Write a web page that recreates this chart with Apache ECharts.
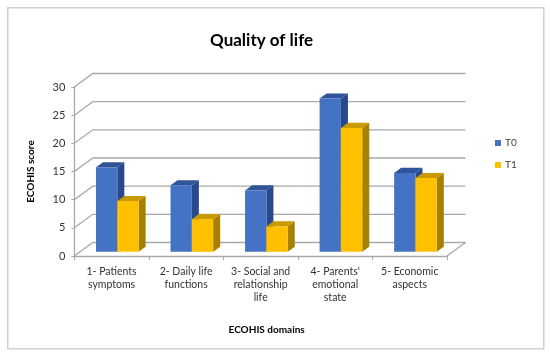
<!DOCTYPE html>
<html>
<head>
<meta charset="utf-8">
<script src="https://cdn.jsdelivr.net/npm/echarts@6/dist/echarts.min.js"></script>
<style>
html,body{margin:0;padding:0;background:#fff;}
#chart{width:550px;height:356px;}
</style>
</head>
<body>
<div id="chart"></div>
<script>
// ---- data ----
const categories = [
  "1- Patients\nsymptoms",
  "2- Daily life\nfunctions",
  "3- Social and\nrelationship\nlife",
  "4- Parents'\nemotional\nstate",
  "5- Economic\naspects"
];
const seriesNames = ["T0", "T1"];
const t0Values = [15, 11.8, 10.9, 27.2, 14];
const t1Values = [9, 5.8, 4.5, 22, 13.1];
const yTicks = [0, 5, 10, 15, 20, 25, 30];

// ---- style constants ----
const FONT = 'Lato, "Open Sans", sans-serif';
const DX = 18.5, DY = -13.5;      // depth of the 3D box
const FRONT_OFF = 0.31;            // bar front face depth fraction
const BAR_DEPTH = 0.38;            // bar depth fraction
const BAR_FRAC = 0.286;            // bar width relative to category width
const GRID_COLOR = '#a9a9a9';

function barRenderer(side, frontColor, topColor, sideColor) {
  return function (params, api) {
    const cat = api.value(0), val = api.value(1);
    const base = api.coord([cat, 0]);
    const top = api.coord([cat, val]);
    const cw = api.size([1, 0])[0];
    const bw = cw * BAR_FRAC;
    const ox = DX * FRONT_OFF, oy = DY * FRONT_OFF;
    const bdx = DX * BAR_DEPTH, bdy = DY * BAR_DEPTH;
    const x0 = base[0] + ox + (side === 0 ? -bw : 0);
    const x1 = x0 + bw;
    const yb = base[1] + oy, yt = top[1] + oy;
    return {
      type: 'group',
      children: [
        { type: 'polygon', shape: { points: [[x1, yt], [x1 + bdx, yt + bdy], [x1 + bdx, yb + bdy], [x1, yb]] },
          style: { fill: sideColor } },
        { type: 'polygon', shape: { points: [[x0, yt], [x1, yt], [x1 + bdx, yt + bdy], [x0 + bdx, yt + bdy]] },
          style: { fill: topColor } },
        { type: 'rect', shape: { x: x0, y: yt, width: bw, height: yb - yt },
          style: { fill: frontColor } }
      ]
    };
  };
}

function wallRenderer(params, api) {
  const v = api.value(0);
  const cs = params.coordSys;
  const y = api.coord([0, v])[1];
  const xl = cs.x, xr = cs.x + cs.width;
  const children = [
    { type: 'polyline', shape: { points: [[xl, y], [xl + DX, y + DY], [xr + DX, y + DY]] },
      style: { stroke: GRID_COLOR, lineWidth: 1.3, fill: null } }
  ];
  if (v === 0) {
    children.push({ type: 'polyline', shape: { points: [[xr, y], [xr + DX, y + DY]] },
      style: { stroke: GRID_COLOR, lineWidth: 1.3, fill: null } });
  }
  return { type: 'group', children: children };
}

const chart = echarts.init(document.getElementById('chart'), null, { renderer: 'canvas' });
chart.setOption({
  animation: false,
  backgroundColor: '#fff',
  graphic: [{
    type: 'rect', left: 7, top: 7, z: -1,
    shape: { width: 536, height: 341 },
    style: { fill: '#fff', stroke: '#d0d0d0', lineWidth: 1.5 }
  }],
  title: {
    text: 'Quality of life',
    left: 205, top: 27,
    textStyle: { fontFamily: FONT, fontWeight: 'bold', fontSize: 17, color: '#000' }
  },
  legend: {
    data: seriesNames,
    orient: 'vertical',
    left: 490, top: 133,
    itemWidth: 6, itemHeight: 6, itemGap: 12,
    icon: 'rect',
    textStyle: { fontFamily: FONT, fontSize: 10, color: '#404040', padding: [0, 0, 0, -1] }
  },
  grid: { left: 74.3, right: 103, top: 87, bottom: 100, containLabel: false },
  xAxis: {
    type: 'category',
    data: categories,
    name: 'ECOHIS domains',
    nameLocation: 'middle',
    nameGap: 69,
    nameTextStyle: { fontFamily: FONT, fontWeight: 'bold', fontSize: 10, color: '#000', padding: [0, 0, 0, 12] },
    axisLine: { lineStyle: { color: GRID_COLOR, width: 1.3 } },
    axisTick: { show: true, alignWithLabel: false, length: 4, lineStyle: { color: GRID_COLOR } },
    axisLabel: { interval: 0, fontFamily: FONT, fontSize: 10.5, lineHeight: 13, color: '#333', margin: 9 },
    splitLine: { show: false }
  },
  yAxis: {
    type: 'value',
    min: 0, max: 30, interval: 5,
    name: 'ECOHIS score',
    nameLocation: 'middle',
    nameGap: 39,
    nameTextStyle: { fontFamily: FONT, fontWeight: 'bold', fontSize: 10, color: '#000' },
    axisLine: { show: true, lineStyle: { color: GRID_COLOR, width: 1.3 } },
    axisTick: { show: true, length: 3, lineStyle: { color: GRID_COLOR } },
    axisLabel: { fontFamily: FONT, fontSize: 11, color: '#333', margin: 9 },
    splitLine: { show: false }
  },
  series: [
    {
      type: 'custom', name: 'walls', silent: true, z: 1,
      data: yTicks.map(v => [v]),
      encode: { y: 0 },
      renderItem: wallRenderer
    },
    {
      type: 'custom', name: seriesNames[0], z: 3,
      itemStyle: { color: '#4472C4' },
      data: t0Values.map((v, i) => [i, v]),
      encode: { x: 0, y: 1 },
      renderItem: barRenderer(0, '#4472C4', '#2F5499', '#29498A')
    },
    {
      type: 'custom', name: seriesNames[1], z: 4,
      itemStyle: { color: '#FFC000' },
      data: t1Values.map((v, i) => [i, v]),
      encode: { x: 0, y: 1 },
      renderItem: barRenderer(1, '#FFC000', '#C99A00', '#A88000')
    }
  ]
});
</script>
</body>
</html>
